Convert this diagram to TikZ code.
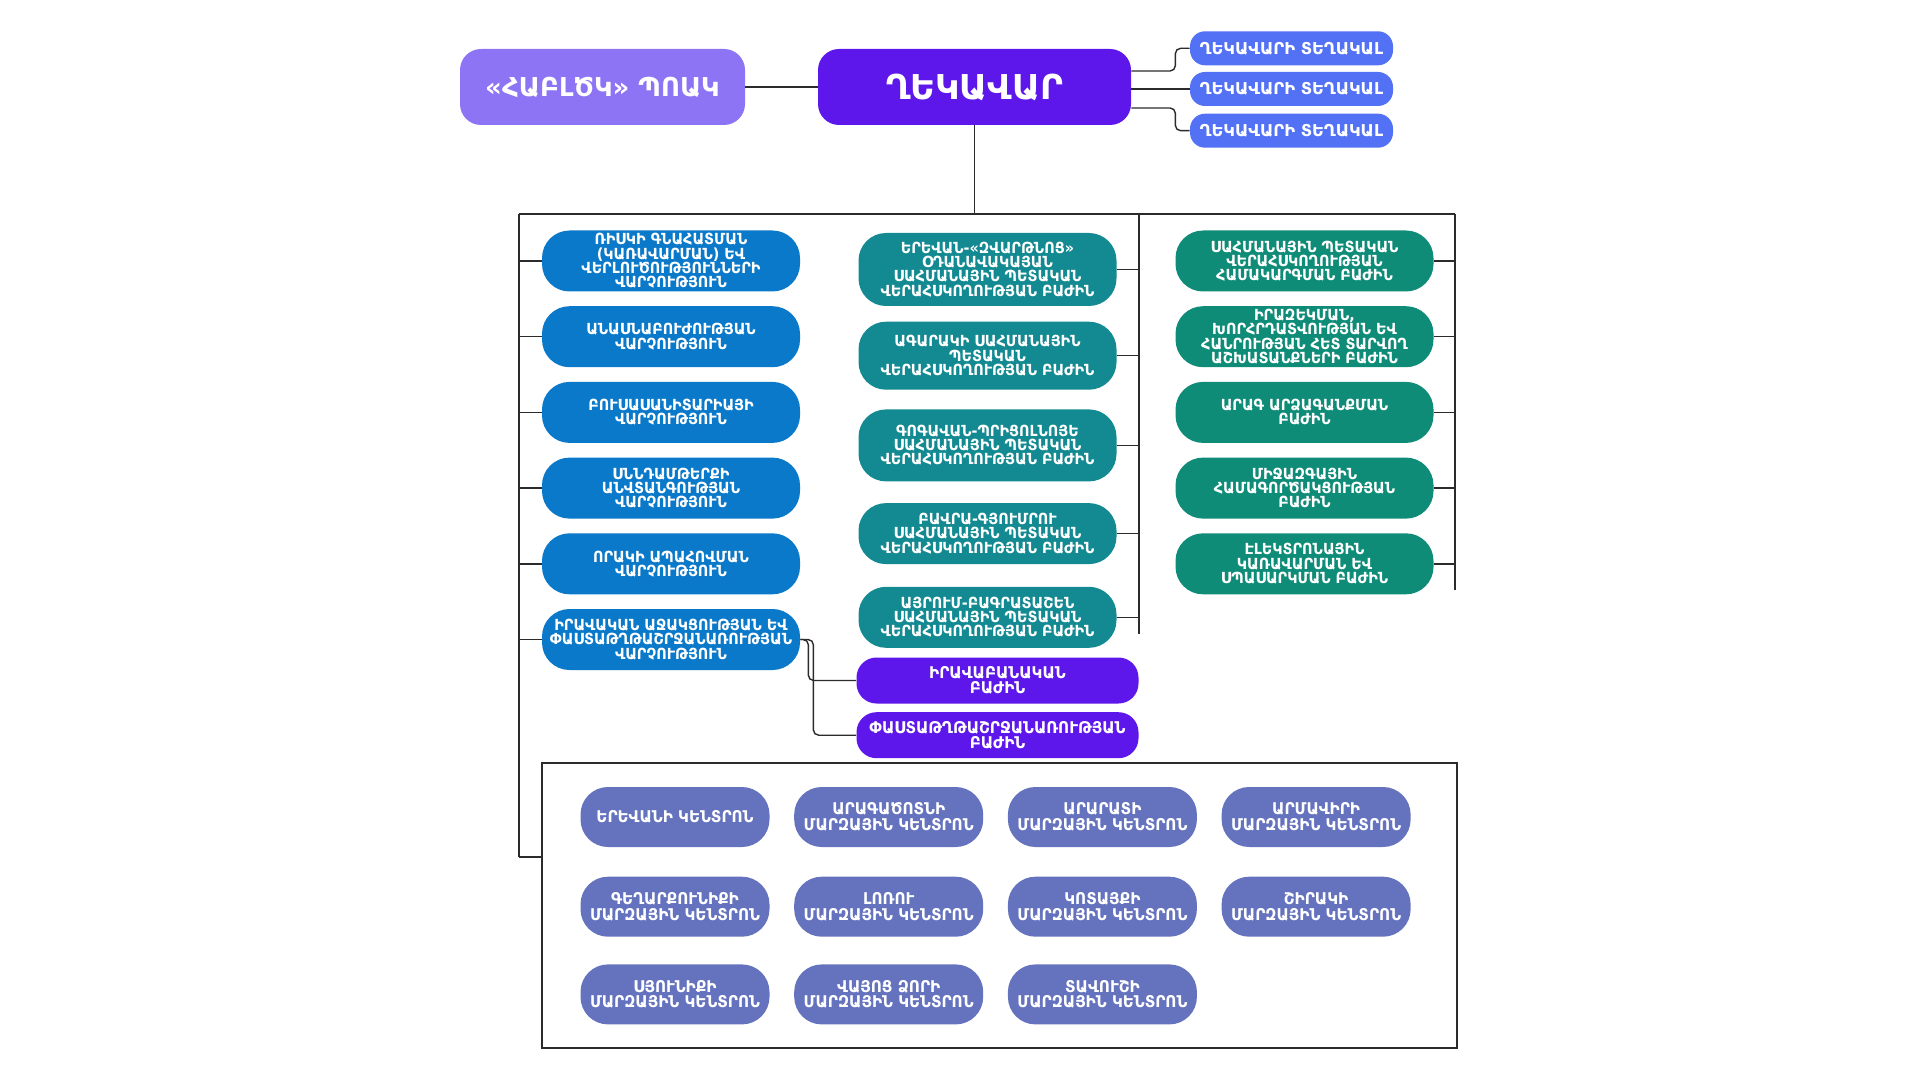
\documentclass[tikz,border=0pt]{standalone}
\usepackage{fontspec}
\setmainfont{DejaVu Sans}
\newfontfamily\narrowfont{DejaVu Sans}[FakeStretch=0.94]
\usepackage{tikz}
\usetikzlibrary{positioning}
\definecolor{chief}{HTML}{5E17EB}
\definecolor{lilac}{HTML}{8C74F5}
\definecolor{deputy}{HTML}{5271F5}
\definecolor{mgmtblue}{HTML}{0B79C9}
\definecolor{borderteal}{HTML}{138A92}
\definecolor{unitgreen}{HTML}{0F8C78}
\definecolor{regionblue}{HTML}{6573BF}
\definecolor{linegray}{HTML}{2B2B2B}
\tikzset{
  headbox/.style={rectangle, rounded corners=0.42cm, fill=#1, text=white,
    minimum width=6.26cm, minimum height=1.52cm, inner sep=2pt,
    font=\bfseries\fontsize{19.5}{21}\selectfont},
  headbox/.default=chief,
  deputybox/.style={rectangle, rounded corners=0.3cm, fill=deputy, text=white,
    minimum width=4.06cm, minimum height=0.68cm, inner sep=1pt,
    font=\bfseries\fontsize{9.3}{10}\selectfont},
  deptbox/.style={rectangle, rounded corners=0.55cm, fill=#1, text=white,
    minimum width=5.16cm, minimum height=1.22cm, inner sep=0.5pt, align=center,
    font=\narrowfont\bfseries\fontsize{8.7}{8.1}\selectfont},
  deptbox/.default=mgmtblue,
  subbox/.style={deptbox=chief, minimum width=5.64cm, minimum height=0.92cm,
    rounded corners=0.4cm, font=\narrowfont\bfseries\fontsize{9.2}{8.6}\selectfont},
  regionbox/.style={rectangle, rounded corners=0.55cm, fill=regionblue, text=white,
    minimum width=3.78cm, minimum height=1.2cm, inner sep=1pt, align=center,
    font=\narrowfont\bfseries\fontsize{9.2}{8.8}\selectfont},
  link/.style={draw=linegray, line width=0.8pt},
  framebox/.style={rectangle, draw=linegray, line width=1pt,
    minimum width=18.3cm, minimum height=5.7cm}
}
\begin{document}
\begin{tikzpicture}[node distance=0.28cm and 0.48cm]
\useasboundingbox (0,0) rectangle (38.4,-21.6);
% head and deputies
\node[headbox] (head) at (19.49,-1.74) {ՂԵԿԱՎԱՐ};
\node[headbox=lilac, minimum width=5.7cm, font=\bfseries\fontsize{14.8}{16}\selectfont] (lab) at (12.05,-1.74) {«ՀԱԲԼԾԿ» ՊՈԱԿ};
\node[deputybox] (dep-2) at (25.83,-1.78) {ՂԵԿԱՎԱՐԻ ՏԵՂԱԿԱԼ};
\node[deputybox, above=0.12cm of dep-2] (dep-1) {ՂԵԿԱՎԱՐԻ ՏԵՂԱԿԱԼ};
\node[deputybox, below=0.14cm of dep-2] (dep-3) {ՂԵԿԱՎԱՐԻ ՏԵՂԱԿԱԼ};
\draw[link] (lab.east) -- (head.west);
\draw[link, rounded corners=3pt] ([yshift=0.32cm]head.east) -- ++(0.88,0) |- (dep-1.west);
\draw[link] (dep-2.west -| head.east) -- (dep-2.west);
\draw[link, rounded corners=3pt] ([yshift=-0.42cm]head.east) -- ++(0.88,0) |- (dep-3.west);
% bus lines
\coordinate (bar-left) at (10.38,-4.28);
\coordinate (bar-mid) at (22.78,-4.28);
\coordinate (bar-right) at (29.1,-4.28);
\coordinate (spine-left) at (10.38,-17.14);
\coordinate (spine-mid) at (22.78,-12.68);
\coordinate (spine-right) at (29.1,-11.8);
\draw[link] (head.south) -- (head.south |- bar-left);
\draw[link] (bar-left) -- (bar-right) (bar-left) -- (spine-left)
  (bar-mid) -- (spine-mid) (bar-right) -- (spine-right);
% management departments
\node[deptbox] (blue-1) at (13.42,-5.22) {ՌԻՍԿԻ ԳՆԱՀԱՏՄԱՆ\\(ԿԱՌԱՎԱՐՄԱՆ) ԵՎ\\ՎԵՐԼՈՒԾՈՒԹՅՈՒՆՆԵՐԻ\\ՎԱՐՉՈՒԹՅՈՒՆ};
\node[deptbox, below=of blue-1] (blue-2) {ԱՆԱՍՆԱԲՈՒԺՈՒԹՅԱՆ\\ՎԱՐՉՈՒԹՅՈՒՆ};
\node[deptbox, below=of blue-2] (blue-3) {ԲՈՒՍԱՍԱՆԻՏԱՐԻԱՅԻ\\ՎԱՐՉՈՒԹՅՈՒՆ};
\node[deptbox, below=of blue-3] (blue-4) {ՍՆՆԴԱՄԹԵՐՔԻ\\ԱՆՎՏԱՆԳՈՒԹՅԱՆ\\ՎԱՐՉՈՒԹՅՈՒՆ};
\node[deptbox, below=of blue-4] (blue-5) {ՈՐԱԿԻ ԱՊԱՀՈՎՄԱՆ\\ՎԱՐՉՈՒԹՅՈՒՆ};
\node[deptbox, below=of blue-5] (blue-6) {ԻՐԱՎԱԿԱՆ ԱՋԱԿՑՈՒԹՅԱՆ ԵՎ\\ՓԱՍՏԱԹՂԹԱՇՐՋԱՆԱՌՈՒԹՅԱՆ\\ՎԱՐՉՈՒԹՅՈՒՆ};
\draw[link] (blue-1.west -| bar-left) -- (blue-1.west) (blue-2.west -| bar-left) -- (blue-2.west)
  (blue-3.west -| bar-left) -- (blue-3.west) (blue-4.west -| bar-left) -- (blue-4.west)
  (blue-5.west -| bar-left) -- (blue-5.west) (blue-6.west -| bar-left) -- (blue-6.west);
% border checkpoints
\node[deptbox=borderteal, minimum height=1.46cm] (teal-1) at (19.75,-5.39) {ԵՐԵՎԱՆ-«ԶՎԱՐԹՆՈՑ»\\ՕԴԱՆԱՎԱԿԱՅԱՆ\\ՍԱՀՄԱՆԱՅԻՆ ՊԵՏԱԿԱՆ\\ՎԵՐԱՀՍԿՈՂՈՒԹՅԱՆ ԲԱԺԻՆ};
\node[deptbox=borderteal, minimum height=1.36cm, below=0.3cm of teal-1] (teal-2) {ԱԳԱՐԱԿԻ ՍԱՀՄԱՆԱՅԻՆ\\ՊԵՏԱԿԱՆ\\ՎԵՐԱՀՍԿՈՂՈՒԹՅԱՆ ԲԱԺԻՆ};
\node[deptbox=borderteal, minimum height=1.44cm, below=0.38cm of teal-2] (teal-3) {ԳՈԳԱՎԱՆ-ՊՐԻՑՈԼՆՈՅԵ\\ՍԱՀՄԱՆԱՅԻՆ ՊԵՏԱԿԱՆ\\ՎԵՐԱՀՍԿՈՂՈՒԹՅԱՆ ԲԱԺԻՆ};
\node[deptbox=borderteal, below=0.42cm of teal-3] (teal-4) {ԲԱՎՐԱ-ԳՅՈՒՄՐՈՒ\\ՍԱՀՄԱՆԱՅԻՆ ՊԵՏԱԿԱՆ\\ՎԵՐԱՀՍԿՈՂՈՒԹՅԱՆ ԲԱԺԻՆ};
\node[deptbox=borderteal, below=0.44cm of teal-4] (teal-5) {ԱՅՐՈՒՄ-ԲԱԳՐԱՏԱՇԵՆ\\ՍԱՀՄԱՆԱՅԻՆ ՊԵՏԱԿԱՆ\\ՎԵՐԱՀՍԿՈՂՈՒԹՅԱՆ ԲԱԺԻՆ};
\draw[link] (teal-1.east) -- (teal-1.east -| bar-mid) (teal-2.east) -- (teal-2.east -| bar-mid)
  (teal-3.east) -- (teal-3.east -| bar-mid) (teal-4.east) -- (teal-4.east -| bar-mid)
  (teal-5.east) -- (teal-5.east -| bar-mid);
% other units
\node[deptbox=unitgreen] (green-1) at (26.09,-5.22) {ՍԱՀՄԱՆԱՅԻՆ ՊԵՏԱԿԱՆ\\ՎԵՐԱՀՍԿՈՂՈՒԹՅԱՆ\\ՀԱՄԱԿԱՐԳՄԱՆ ԲԱԺԻՆ};
\node[deptbox=unitgreen, below=of green-1] (green-2) {ԻՐԱԶԵԿՄԱՆ,\\ԽՈՐՀՐԴԱՏՎՈՒԹՅԱՆ ԵՎ\\ՀԱՆՐՈՒԹՅԱՆ ՀԵՏ ՏԱՐՎՈՂ\\ԱՇԽԱՏԱՆՔՆԵՐԻ ԲԱԺԻՆ};
\node[deptbox=unitgreen, below=of green-2] (green-3) {ԱՐԱԳ ԱՐՁԱԳԱՆՔՄԱՆ\\ԲԱԺԻՆ};
\node[deptbox=unitgreen, below=of green-3] (green-4) {ՄԻՋԱԶԳԱՅԻՆ\\ՀԱՄԱԳՈՐԾԱԿՑՈՒԹՅԱՆ\\ԲԱԺԻՆ};
\node[deptbox=unitgreen, below=of green-4] (green-5) {ԷԼԵԿՏՐՈՆԱՅԻՆ\\ԿԱՌԱՎԱՐՄԱՆ ԵՎ\\ՍՊԱՍԱՐԿՄԱՆ ԲԱԺԻՆ};
\draw[link] (green-1.east) -- (green-1.east -| bar-right) (green-2.east) -- (green-2.east -| bar-right)
  (green-3.east) -- (green-3.east -| bar-right) (green-4.east) -- (green-4.east -| bar-right)
  (green-5.east) -- (green-5.east -| bar-right);
% legal sub-units
\node[subbox] (legal) at (19.95,-13.61) {ԻՐԱՎԱԲԱՆԱԿԱՆ\\ԲԱԺԻՆ};
\node[subbox, below=0.16cm of legal] (docs) {ՓԱՍՏԱԹՂԹԱՇՐՋԱՆԱՌՈՒԹՅԱՆ\\ԲԱԺԻՆ};
\draw[link, rounded corners=3pt] (blue-6.east) -- ++(0.16,0) |- (legal.west);
\draw[link, rounded corners=3pt] (blue-6.east) -- ++(0.26,0) |- (docs.west);
% regional centres
\node[framebox] (regions) at (19.99,-18.11) {};
\draw[link] (spine-left) -- (spine-left -| regions.west);
\node[regionbox] (reg-1) at (13.5,-16.34) {ԵՐԵՎԱՆԻ ԿԵՆՏՐՈՆ};
\node[regionbox, right=of reg-1] (reg-2) {ԱՐԱԳԱԾՈՏՆԻ\\ՄԱՐԶԱՅԻՆ ԿԵՆՏՐՈՆ};
\node[regionbox, right=of reg-2] (reg-3) {ԱՐԱՐԱՏԻ\\ՄԱՐԶԱՅԻՆ ԿԵՆՏՐՈՆ};
\node[regionbox, right=of reg-3] (reg-4) {ԱՐՄԱՎԻՐԻ\\ՄԱՐԶԱՅԻՆ ԿԵՆՏՐՈՆ};
\node[regionbox, below=0.58cm of reg-1] (reg-5) {ԳԵՂԱՐՔՈՒՆԻՔԻ\\ՄԱՐԶԱՅԻՆ ԿԵՆՏՐՈՆ};
\node[regionbox, right=of reg-5] (reg-6) {ԼՈՌՈՒ\\ՄԱՐԶԱՅԻՆ ԿԵՆՏՐՈՆ};
\node[regionbox, right=of reg-6] (reg-7) {ԿՈՏԱՅՔԻ\\ՄԱՐԶԱՅԻՆ ԿԵՆՏՐՈՆ};
\node[regionbox, right=of reg-7] (reg-8) {ՇԻՐԱԿԻ\\ՄԱՐԶԱՅԻՆ ԿԵՆՏՐՈՆ};
\node[regionbox, below=0.54cm of reg-5] (reg-9) {ՍՅՈՒՆԻՔԻ\\ՄԱՐԶԱՅԻՆ ԿԵՆՏՐՈՆ};
\node[regionbox, right=of reg-9] (reg-10) {ՎԱՅՈՑ ՁՈՐԻ\\ՄԱՐԶԱՅԻՆ ԿԵՆՏՐՈՆ};
\node[regionbox, right=of reg-10] (reg-11) {ՏԱՎՈՒՇԻ\\ՄԱՐԶԱՅԻՆ ԿԵՆՏՐՈՆ};
\end{tikzpicture}
\end{document}
